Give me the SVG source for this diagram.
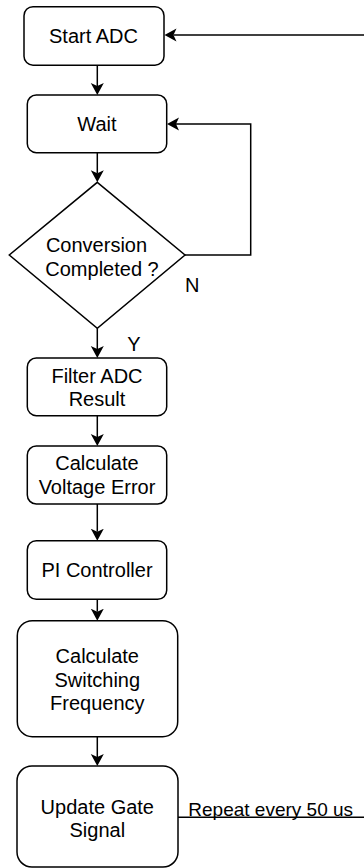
<svg xmlns="http://www.w3.org/2000/svg" width="364" height="868" viewBox="0 0 364 868">
  <style>
    .box { fill: #ffffff; stroke: #000000; stroke-width: 1.5; }
    .t { font-family: "Liberation Sans", Arial, Helvetica, sans-serif; font-size: 20px; fill: #000000; text-anchor: middle; }
    .lbl { font-family: "Liberation Sans", Arial, Helvetica, sans-serif; font-size: 20px; fill: #000000; }
    .c { fill: none; stroke: #000000; stroke-width: 1.5; }
  </style>
  <defs>
    <marker id="arr" markerUnits="userSpaceOnUse" markerWidth="14" markerHeight="14" viewBox="0 0 14 14" refX="3" refY="7" orient="auto">
      <path d="M12,7 L0,0.5 L3,7 L0,13.5 Z" fill="#000000"/>
    </marker>
  </defs>
  <rect width="364" height="868" fill="#ffffff"/>

  <g id="connectors">
    <path class="c" d="M97.3,65.7 V86" marker-end="url(#arr)"/>
    <path class="c" d="M97.3,152.7 V173.3" marker-end="url(#arr)"/>
    <path class="c" d="M97.3,328.3 V349" marker-end="url(#arr)"/>
    <path class="c" d="M97.3,415.7 V437" marker-end="url(#arr)"/>
    <path class="c" d="M97.3,504 V531.7" marker-end="url(#arr)"/>
    <path class="c" d="M97.3,599.3 V611.7" marker-end="url(#arr)"/>
    <path class="c" d="M97.3,736.7 V757" marker-end="url(#arr)"/>
    <path class="c" d="M185,255 H250.7 V124 H176" marker-end="url(#arr)"/>
    <path class="c" d="M364,35 H173.5" marker-end="url(#arr)"/>
    <path class="c" d="M178,817.3 H364"/>
    <text class="lbl" x="185" y="292.3">N</text>
    <text class="lbl" x="127.3" y="350.7">Y</text>
    <text class="lbl" x="188.3" y="815.5" style="font-size:19px">Repeat every 50 us</text>
  </g>

  <g id="start-adc">
    <rect class="box" x="24" y="6.7" width="140" height="58.5" rx="9"/>
    <text class="t" x="93.5" y="43">Start ADC</text>
  </g>

  <g id="wait">
    <rect class="box" x="27.3" y="95" width="139.4" height="57.7" rx="9"/>
    <text class="t" x="97" y="131">Wait</text>
  </g>

  <g id="conversion-completed">
    <polygon class="box" points="97.3,182.3 185,255 97.3,328.3 9.3,255"/>
    <text class="t" x="96.5" y="252.3">Conversion</text>
    <text class="t" x="102" y="275.7">Completed ?</text>
  </g>

  <g id="filter-adc-result">
    <rect class="box" x="27.3" y="358" width="139.4" height="57.7" rx="9"/>
    <text class="t" x="97" y="382.5">Filter ADC</text>
    <text class="t" x="97" y="405.8">Result</text>
  </g>

  <g id="calculate-voltage-error">
    <rect class="box" x="27.3" y="446" width="139.4" height="58" rx="9"/>
    <text class="t" x="97" y="470.3">Calculate</text>
    <text class="t" x="97" y="493.6">Voltage Error</text>
  </g>

  <g id="pi-controller">
    <rect class="box" x="27.3" y="540.7" width="139.4" height="58.6" rx="9"/>
    <text class="t" x="97" y="577.2">PI Controller</text>
  </g>

  <g id="calculate-switching-frequency">
    <rect class="box" x="17.3" y="620.7" width="160.4" height="116" rx="15"/>
    <text class="t" x="97.3" y="663.3">Calculate</text>
    <text class="t" x="97.3" y="686.6">Switching</text>
    <text class="t" x="97.3" y="709.9">Frequency</text>
  </g>

  <g id="update-gate-signal">
    <rect class="box" x="17" y="766" width="161" height="101" rx="15"/>
    <text class="t" x="97.3" y="814">Update Gate</text>
    <text class="t" x="97.3" y="837.3">Signal</text>
  </g>
</svg>
